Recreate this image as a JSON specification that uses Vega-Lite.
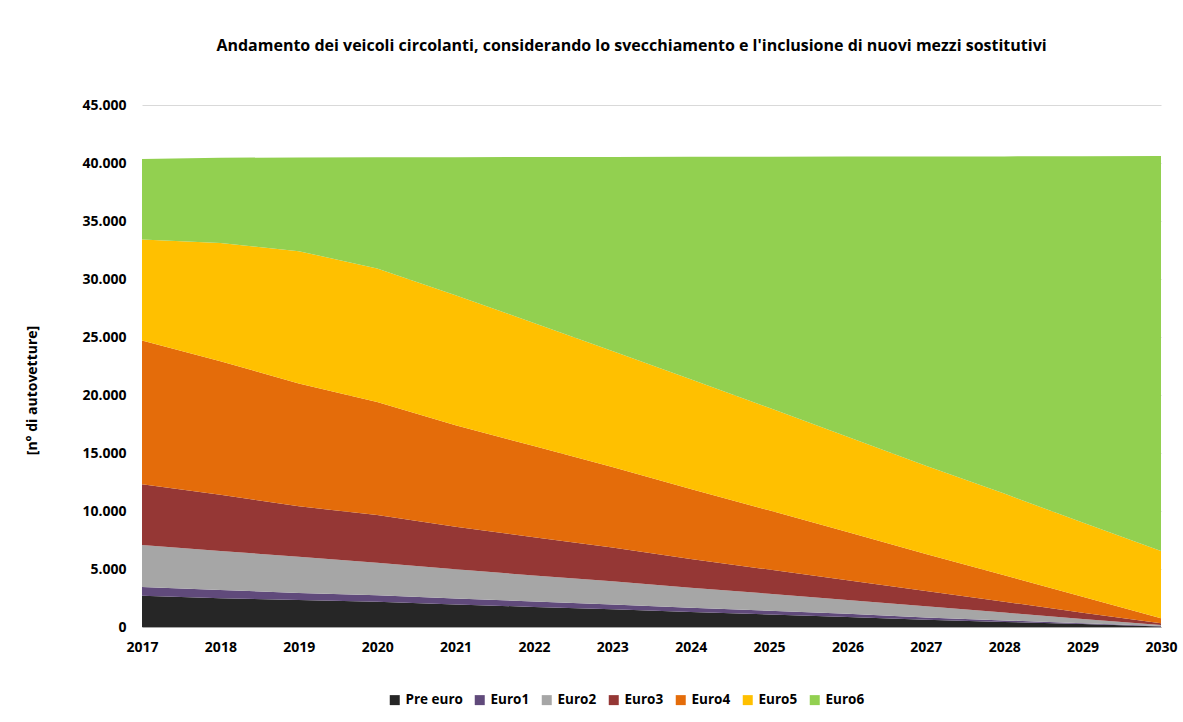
{
  "$schema": "https://vega.github.io/schema/vega-lite/v6.json",
  "width": 1019,
  "height": 522,
  "autosize": {"type": "none"},
  "padding": {"left": 142, "top": 105, "right": 22, "bottom": 95},
  "background": "white",
  "config": {
    "font": "Open Sans",
    "view": {"stroke": null},
    "locale": {"number": {"decimal": ",", "thousands": ".", "grouping": [3], "currency": ["€", ""]}}
  },
  "title": {
    "text": "Andamento dei veicoli circolanti, considerando lo svecchiamento e l'inclusione di nuovi mezzi sostitutivi",
    "font": "Open Sans",
    "fontSize": 16,
    "fontWeight": "bold",
    "color": "#000000",
    "anchor": "middle",
    "frame": "group",
    "dx": -20,
    "offset": 44
  },
  "data": {
    "values": [
      {"year": 2017, "series": "Pre euro", "value": 2700},
      {"year": 2017, "series": "Euro1", "value": 750},
      {"year": 2017, "series": "Euro2", "value": 3620},
      {"year": 2017, "series": "Euro3", "value": 5230},
      {"year": 2017, "series": "Euro4", "value": 12400},
      {"year": 2017, "series": "Euro5", "value": 8700},
      {"year": 2017, "series": "Euro6", "value": 6950},
      {"year": 2018, "series": "Pre euro", "value": 2480},
      {"year": 2018, "series": "Euro1", "value": 710},
      {"year": 2018, "series": "Euro2", "value": 3360},
      {"year": 2018, "series": "Euro3", "value": 4850},
      {"year": 2018, "series": "Euro4", "value": 11500},
      {"year": 2018, "series": "Euro5", "value": 10200},
      {"year": 2018, "series": "Euro6", "value": 7350},
      {"year": 2019, "series": "Pre euro", "value": 2330},
      {"year": 2019, "series": "Euro1", "value": 600},
      {"year": 2019, "series": "Euro2", "value": 3130},
      {"year": 2019, "series": "Euro3", "value": 4340},
      {"year": 2019, "series": "Euro4", "value": 10600},
      {"year": 2019, "series": "Euro5", "value": 11400},
      {"year": 2019, "series": "Euro6", "value": 8080},
      {"year": 2020, "series": "Pre euro", "value": 2180},
      {"year": 2020, "series": "Euro1", "value": 550},
      {"year": 2020, "series": "Euro2", "value": 2810},
      {"year": 2020, "series": "Euro3", "value": 4120},
      {"year": 2020, "series": "Euro4", "value": 9740},
      {"year": 2020, "series": "Euro5", "value": 11500},
      {"year": 2020, "series": "Euro6", "value": 9600},
      {"year": 2021, "series": "Pre euro", "value": 1950},
      {"year": 2021, "series": "Euro1", "value": 500},
      {"year": 2021, "series": "Euro2", "value": 2520},
      {"year": 2021, "series": "Euro3", "value": 3680},
      {"year": 2021, "series": "Euro4", "value": 8750},
      {"year": 2021, "series": "Euro5", "value": 11200},
      {"year": 2021, "series": "Euro6", "value": 11900},
      {"year": 2022, "series": "Pre euro", "value": 1730},
      {"year": 2022, "series": "Euro1", "value": 470},
      {"year": 2022, "series": "Euro2", "value": 2250},
      {"year": 2022, "series": "Euro3", "value": 3290},
      {"year": 2022, "series": "Euro4", "value": 7860},
      {"year": 2022, "series": "Euro5", "value": 10600},
      {"year": 2022, "series": "Euro6", "value": 14320},
      {"year": 2023, "series": "Pre euro", "value": 1520},
      {"year": 2023, "series": "Euro1", "value": 430},
      {"year": 2023, "series": "Euro2", "value": 1990},
      {"year": 2023, "series": "Euro3", "value": 2910},
      {"year": 2023, "series": "Euro4", "value": 6950},
      {"year": 2023, "series": "Euro5", "value": 10000},
      {"year": 2023, "series": "Euro6", "value": 16720},
      {"year": 2024, "series": "Pre euro", "value": 1300},
      {"year": 2024, "series": "Euro1", "value": 360},
      {"year": 2024, "series": "Euro2", "value": 1730},
      {"year": 2024, "series": "Euro3", "value": 2480},
      {"year": 2024, "series": "Euro4", "value": 6030},
      {"year": 2024, "series": "Euro5", "value": 9450},
      {"year": 2024, "series": "Euro6", "value": 19180},
      {"year": 2025, "series": "Pre euro", "value": 1080},
      {"year": 2025, "series": "Euro1", "value": 320},
      {"year": 2025, "series": "Euro2", "value": 1470},
      {"year": 2025, "series": "Euro3", "value": 2080},
      {"year": 2025, "series": "Euro4", "value": 5110},
      {"year": 2025, "series": "Euro5", "value": 8840},
      {"year": 2025, "series": "Euro6", "value": 21640},
      {"year": 2026, "series": "Pre euro", "value": 870},
      {"year": 2026, "series": "Euro1", "value": 280},
      {"year": 2026, "series": "Euro2", "value": 1180},
      {"year": 2026, "series": "Euro3", "value": 1690},
      {"year": 2026, "series": "Euro4", "value": 4180},
      {"year": 2026, "series": "Euro5", "value": 8200},
      {"year": 2026, "series": "Euro6", "value": 24150},
      {"year": 2027, "series": "Pre euro", "value": 620},
      {"year": 2027, "series": "Euro1", "value": 200},
      {"year": 2027, "series": "Euro2", "value": 960},
      {"year": 2027, "series": "Euro3", "value": 1320},
      {"year": 2027, "series": "Euro4", "value": 3200},
      {"year": 2027, "series": "Euro5", "value": 7600},
      {"year": 2027, "series": "Euro6", "value": 26660},
      {"year": 2028, "series": "Pre euro", "value": 440},
      {"year": 2028, "series": "Euro1", "value": 130},
      {"year": 2028, "series": "Euro2", "value": 670},
      {"year": 2028, "series": "Euro3", "value": 940},
      {"year": 2028, "series": "Euro4", "value": 2280},
      {"year": 2028, "series": "Euro5", "value": 7040},
      {"year": 2028, "series": "Euro6", "value": 29070},
      {"year": 2029, "series": "Pre euro", "value": 250},
      {"year": 2029, "series": "Euro1", "value": 80},
      {"year": 2029, "series": "Euro2", "value": 370},
      {"year": 2029, "series": "Euro3", "value": 530},
      {"year": 2029, "series": "Euro4", "value": 1370},
      {"year": 2029, "series": "Euro5", "value": 6400},
      {"year": 2029, "series": "Euro6", "value": 31580},
      {"year": 2030, "series": "Pre euro", "value": 50},
      {"year": 2030, "series": "Euro1", "value": 30},
      {"year": 2030, "series": "Euro2", "value": 90},
      {"year": 2030, "series": "Euro3", "value": 150},
      {"year": 2030, "series": "Euro4", "value": 430},
      {"year": 2030, "series": "Euro5", "value": 5800},
      {"year": 2030, "series": "Euro6", "value": 34050}
    ]
  },
  "transform": [
    {"calculate": "indexof(['Pre euro','Euro1','Euro2','Euro3','Euro4','Euro5','Euro6'], datum.series)", "as": "stackIndex"}
  ],
  "mark": {"type": "area", "interpolate": "linear"},
  "encoding": {
    "x": {
      "field": "year",
      "type": "quantitative",
      "scale": {"domain": [2017, 2030], "nice": false, "zero": false},
      "axis": {
        "title": null,
        "values": [2017, 2018, 2019, 2020, 2021, 2022, 2023, 2024, 2025, 2026, 2027, 2028, 2029, 2030],
        "format": "d",
        "grid": false,
        "ticks": false,
        "domainColor": "#a6a6a6",
        "domainWidth": 1,
        "labelFont": "Open Sans",
        "labelFontSize": 14,
        "labelFontWeight": "bold",
        "labelColor": "#000000",
        "labelPadding": 13,
        "labelFlush": false
      }
    },
    "y": {
      "field": "value",
      "type": "quantitative",
      "stack": "zero",
      "scale": {"domain": [0, 45000], "nice": false},
      "axis": {
        "title": "[n° di autovetture]",
        "titleFont": "Open Sans",
        "titleFontSize": 14,
        "titleFontWeight": "bold",
        "titleColor": "#000000",
        "titleAngle": -90,
        "titleAlign": "center",
        "titleBaseline": "bottom",
        "titleX": -103,
        "titleY": 285,
        "values": [0, 5000, 10000, 15000, 20000, 25000, 30000, 35000, 40000, 45000],
        "format": ",d",
        "grid": true,
        "gridColor": "#d9d9d9",
        "domain": false,
        "ticks": false,
        "labelFont": "Open Sans",
        "labelFontSize": 14,
        "labelFontWeight": "bold",
        "labelColor": "#000000",
        "labelPadding": 16
      }
    },
    "color": {
      "field": "series",
      "type": "nominal",
      "sort": ["Pre euro", "Euro1", "Euro2", "Euro3", "Euro4", "Euro5", "Euro6"],
      "scale": {
        "domain": ["Pre euro", "Euro1", "Euro2", "Euro3", "Euro4", "Euro5", "Euro6"],
        "range": ["#262626", "#604a7b", "#a6a6a6", "#953735", "#e46c0a", "#ffc000", "#92d050"]
      },
      "legend": {
        "title": null,
        "orient": "none",
        "direction": "horizontal",
        "legendX": 246,
        "legendY": 588,
        "symbolType": "square",
        "symbolSize": 100,
        "symbolStrokeWidth": 0,
        "labelFont": "Open Sans",
        "labelFontSize": 13.5,
        "labelFontWeight": "bold",
        "labelColor": "#000000",
        "labelOffset": 4,
        "columnPadding": 10
      }
    },
    "order": {"field": "stackIndex", "type": "quantitative", "sort": "ascending"}
  }
}
